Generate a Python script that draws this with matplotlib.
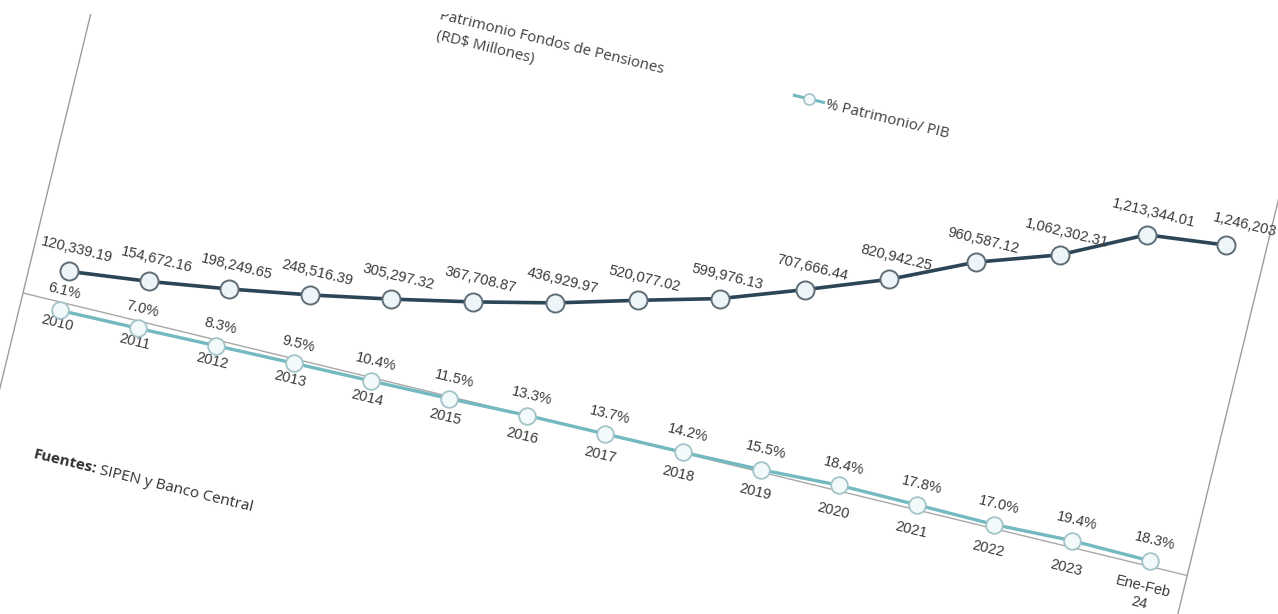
import matplotlib
matplotlib.use('Agg')
import matplotlib.pyplot as plt
from matplotlib.transforms import Affine2D, offset_copy
from matplotlib.patches import Rectangle

# data
years = ['2010', '2011', '2012', '2013', '2014', '2015', '2016', '2017',
         '2018', '2019', '2020', '2021', '2022', '2023', 'Ene-Feb\n24']
patrimonio = [120339.19, 154672.16, 198249.65, 248516.39, 305297.32, 367708.87,
              436929.97, 520077.02, 599976.13, 707666.44, 820942.25, 960587.12,
              1062302.31, 1213344.01, 1246203]
pat_labels = ['120,339.19', '154,672.16', '198,249.65', '248,516.39', '305,297.32',
              '367,708.87', '436,929.97', '520,077.02', '599,976.13', '707,666.44',
              '820,942.25', '960,587.12', '1,062,302.31', '1,213,344.01', '1,246,203']
pct = [6.1, 7.0, 8.3, 9.5, 10.4, 11.5, 13.3, 13.7, 14.2, 15.5, 18.4, 17.8, 17.0, 19.4, 18.3]

ANG = -13.64          # the photo is tilted clockwise
X0, Y0 = 23, 321      # lower left corner of plot area (pixels)
W, H = 1198, 424

dark = '#2c4657'
teal = '#72b9c0'
txt = '#3a3a3a'

fig = plt.figure(figsize=(12.78, 6.14), dpi=100)
ax = fig.add_axes([X0 / 1278, Y0 / 614, W / 1278, H / 614])
ax2 = ax.twinx()
for a in (ax, ax2):
    a.set_axis_off()
ax.set_xlim(-0.5, 14.5)
ax.set_ylim(0, 1.6e6)
ax2.set_ylim(13.4, 392)

rot = Affine2D().rotate_deg_around(X0, Y0, ANG)
frame = Affine2D().translate(X0, Y0).rotate_deg_around(X0, Y0, ANG)  # (u, v) px -> display


def shifted(t, dx=0, dy=0):
    return offset_copy(t, fig=fig, x=dx, y=dy, units='dots') + rot


x = list(range(len(years)))

# chart border + category axis
ax.plot([0, 0], [-500, 700], transform=frame, color='#9c9c9c', lw=1, clip_on=False)
ax.plot([W, W], [-500, 700], transform=frame, color='#9c9c9c', lw=1, clip_on=False)
ax.plot([0, W], [0, 0], transform=frame, color='#a8a8a8', lw=1, clip_on=False)

ax.plot(x, patrimonio, color=dark, lw=2.6, marker='o', ms=13, mfc='#eef5f9',
        mec='#5f6d77', mew=1.4, transform=ax.transData + rot, clip_on=False, zorder=3)
ax2.plot(x, pct, color=teal, lw=2.4, marker='o', ms=12, mfc='#f3fafb',
         mec='#a3c4c8', mew=1.3, transform=ax2.transData + rot, clip_on=False, zorder=3)

lab_font = dict(fontfamily='Liberation Sans', fontsize=10.5, color=txt,
                rotation=ANG, rotation_mode='anchor')

for i, (v, s) in enumerate(zip(patrimonio, pat_labels)):
    if i == len(x) - 1:
        ax.text(i, v, s, transform=shifted(ax.transData, -19, 24), ha='left', va='center', **lab_font)
    else:
        ax.text(i, v, s, transform=shifted(ax.transData, 2, 23), ha='center', va='center', **lab_font)

for i, p in enumerate(pct):
    ax2.text(i, p, f'{p:.1f}%', transform=shifted(ax2.transData, 0, 20),
             ha='center', va='center', **lab_font)

for i, yr in enumerate(years):
    ax.text(i, 0, yr, transform=shifted(ax.transData, 0, -14), ha='center', va='top',
            linespacing=1.3, **lab_font)

# legend (drawn by hand so it follows the tilt)
leg_font = dict(fontfamily='Open Sans', fontsize=10.8, color='#404040',
                rotation=ANG, rotation_mode='anchor')
ax.plot([303, 335], [373, 373], transform=frame, color=dark, lw=2.2, clip_on=False)
ax.plot([319], [373], transform=frame, marker='o', ms=8, mfc='#eef5f9', mec='#5f6d77',
        mew=1.2, clip_on=False)
ax.text(340, 368, 'Patrimonio Fondos de Pensiones', transform=frame, ha='left', va='center', **leg_font)
ax.text(341, 348, '(RD$ Millones)', transform=frame, ha='left', va='center', **leg_font)

ax.plot([703, 733], [374, 374], transform=frame, color=teal, lw=2.2, clip_on=False)
ax.plot([718], [374], transform=frame, marker='o', ms=8, mfc='#f3fafb', mec='#a3c4c8',
        mew=1.2, clip_on=False)
ax.text(736, 372, '% Patrimonio/ PIB', transform=frame, ha='left', va='center', **leg_font)

# source note
src_font = dict(fontfamily='Open Sans', fontsize=11, color='#303030',
                rotation=ANG, rotation_mode='anchor', va='center', ha='left')
tmp = fig.text(0, 0, 'Fuentes:', fontfamily='Open Sans', fontweight='bold', fontsize=11)
wpx = tmp.get_window_extent(fig.canvas.get_renderer()).width
tmp.remove()
ax.text(48, -154, 'Fuentes:', transform=frame, fontweight='bold', **src_font)
ax.text(48 + wpx + 4, -154, 'SIPEN y Banco Central', transform=frame, **src_font)

# white strip along the top edge of the photo
fig.add_artist(Rectangle((0, 1 - 14 / 614), 1, 14 / 614, transform=fig.transFigure,
                         facecolor='white', edgecolor='none', zorder=20))

fig.savefig('out.png', dpi=100)
